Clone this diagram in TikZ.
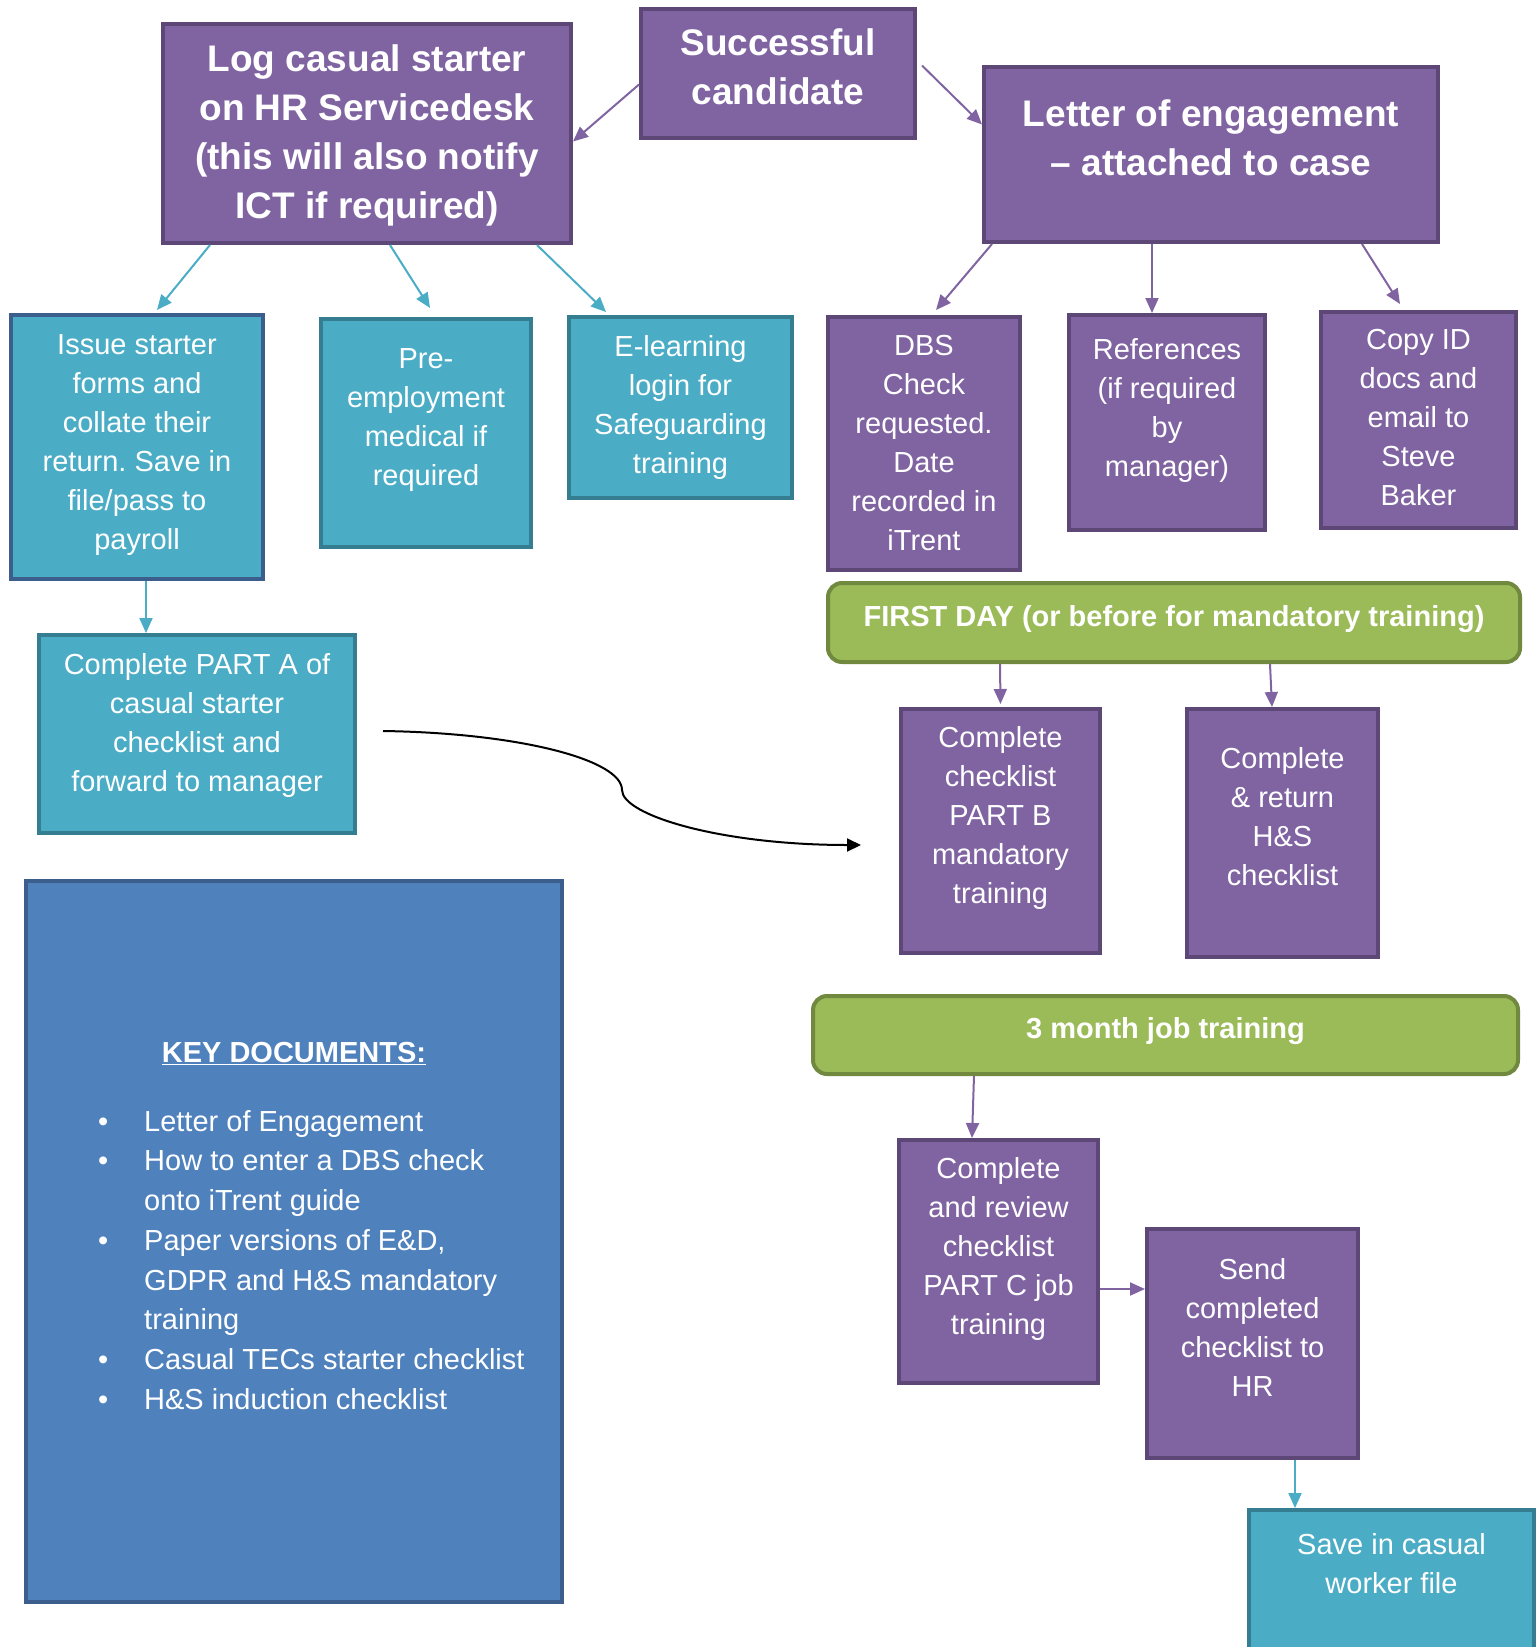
\documentclass[tikz,border=0pt]{standalone}
\usepackage{fontspec}
\setmainfont{Liberation Sans}
\frenchspacing
\usetikzlibrary{positioning,arrows.meta}

\definecolor{hrpurple}{HTML}{8064A2}
\definecolor{hrpurpleline}{HTML}{5C4776}
\definecolor{hrteal}{HTML}{4BACC6}
\definecolor{hrtealline}{HTML}{357D91}
\definecolor{hrnavyline}{HTML}{3B5E8C}
\definecolor{hrgreen}{HTML}{9BBB59}
\definecolor{hrgreenline}{HTML}{71893F}
\definecolor{hrblue}{HTML}{4F81BD}

\begin{document}
\begin{tikzpicture}[x=1pt, y=-1pt]
    \tikzset{boxsize/.style 2 args={minimum width=#1pt, minimum height=#2pt},
      purplecard/.style={draw=hrpurpleline, fill=hrpurple, line width=4pt, inner sep=0pt},
      tealcard/.style={draw=hrtealline, fill=hrteal, line width=4pt, inner sep=0pt},
      greenbar/.style={draw=hrgreenline, fill=hrgreen, line width=4pt, inner sep=0pt, rounded corners=14pt},
      keycard/.style={draw=hrnavyline, fill=hrblue, line width=4pt, inner sep=0pt},
      boxtext/.style={text=white, align=center, inner sep=0pt, font=\fontsize{29}{39}\selectfont},
      headtext/.style={boxtext, font=\bfseries\fontsize{37}{49}\selectfont},
      bartext/.style={boxtext, font=\bfseries\fontsize{29}{39}\selectfont},
      listtext/.style={text=white, align=left, inner sep=0pt, font=\fontsize{29}{39.7}\selectfont},
      purplearrow/.style={draw=hrpurple, line width=2pt, -{Triangle[length=15pt,width=13pt]}},
      tealarrow/.style={draw=hrteal, line width=2pt, -{Triangle[length=15pt,width=13pt]}},
      curvearrow/.style={draw=black, line width=2pt, -{Triangle[length=14pt,width=13pt]}}
    }

    \useasboundingbox (0,0) rectangle (1539,1647);
    \clip (0,0) rectangle (1539,1647);

    % top row
    \node[purplecard, boxsize={274}{129}] (succ) at (778,73.5) {};
    \node[headtext, below=21pt of succ.north] (succ-t) {Successful\\candidate};

    \node[purplecard, boxsize={408}{219}] (log) at (367,133.5) {};
    \node[headtext, below=22pt of log.north] (log-t) {Log casual starter\\on HR Servicedesk\\(this will also notify\\ICT if required)};

    \node[purplecard, boxsize={454}{175}] (letter) at (1211,154.5) {};
    \node[headtext, below=34pt of letter.north] (letter-t) {Letter of engagement\\– attached to case};

    % second row
    \node[tealcard, draw=hrnavyline, boxsize={252}{264}] (issue) at (137,447) {};
    \node[boxtext, below=21pt of issue.north] (issue-t) {Issue starter\\forms and\\collate their\\return. Save in\\file/pass to\\payroll};

    \node[tealcard, boxsize={210}{228}] (pre) at (426,433) {};
    \node[boxtext, below=31pt of pre.north] (pre-t) {Pre-\\employment\\medical if\\required};

    \node[tealcard, boxsize={223}{181}] (elearn) at (680.5,407.5) {};
    \node[boxtext, below=20pt of elearn.north] (elearn-t) {E-learning\\login for\\Safeguarding\\training};

    \node[purplecard, boxsize={192}{253}] (dbs) at (924,443.5) {};
    \node[boxtext, below=20pt of dbs.north] (dbs-t) {DBS\\Check\\requested.\\Date\\recorded in\\iTrent};

    \node[purplecard, boxsize={196}{215}] (ref) at (1167,422.5) {};
    \node[boxtext, below=25pt of ref.north] (ref-t) {References\\(if required\\by\\manager)};

    \node[purplecard, boxsize={195}{216}] (copy) at (1418.5,420) {};
    \node[boxtext, below=19pt of copy.north] (copy-t) {Copy ID\\docs and\\email to\\Steve\\Baker};

    % first day
    \node[tealcard, boxsize={316}{198}] (parta) at (197,734) {};
    \node[boxtext, below=20pt of parta.north] (parta-t) {Complete PART A of\\casual starter\\checklist and\\forward to manager};

    \node[greenbar, boxsize={692}{79}] (firstday) at (1174,622.5) {};
    \node[bartext, below=24pt of firstday.north] (firstday-t) {FIRST DAY (or before for mandatory training)};

    \node[purplecard, boxsize={199}{244}] (partb) at (1000.5,831) {};
    \node[boxtext, below=19pt of partb.north] (partb-t) {Complete\\checklist\\PART B\\mandatory\\training};

    \node[purplecard, boxsize={191}{248}] (hs) at (1282.5,833) {};
    \node[boxtext, below=40pt of hs.north] (hs-t) {Complete\\\& return\\H\&S\\checklist};

    % 3 months
    \node[greenbar, boxsize={705}{78}] (month) at (1165.5,1035) {};
    \node[bartext, below=23pt of month.north] (month-t) {3 month job training};

    \node[purplecard, boxsize={199}{243}] (partc) at (998.5,1261.5) {};
    \node[boxtext, below=19.5pt of partc.north] (partc-t) {Complete\\and review\\checklist\\PART C job\\training};

    \node[purplecard, boxsize={211}{229}] (send) at (1252.5,1343.5) {};
    \node[boxtext, below=31.5pt of send.north] (send-t) {Send\\completed\\checklist to\\HR};

    \node[tealcard, boxsize={285}{188}] (save) at (1391.5,1604) {};
    \node[boxtext, below=25.5pt of save.north] (save-t) {Save in casual\\worker file};

    % key documents
    \node[keycard, boxsize={536}{721}] (key) at (294,1241.5) {};
    \node[bartext, below=163pt of key.north] (key-t) {\underline{KEY DOCUMENTS:}};
    \node[listtext, anchor=north west, below right=231pt and 120pt of key.north west] (key-l)
      {\llap{\textbullet\hspace{36pt}}Letter of Engagement\\
       \llap{\textbullet\hspace{36pt}}How to enter a DBS check\\
       onto iTrent guide\\
       \llap{\textbullet\hspace{36pt}}Paper versions of E\&D,\\
       GDPR and H\&S mandatory\\
       training\\
       \llap{\textbullet\hspace{36pt}}Casual TECs starter checklist\\
       \llap{\textbullet\hspace{36pt}}H\&S induction checklist};

    % connectors
    \draw[purplearrow] ([yshift=-11pt]succ.west) -- ([yshift=-8pt]log.east);
    \draw[purplearrow] ([xshift=5pt,yshift=8pt]succ.east) -- ([yshift=30pt]letter.west);

    \draw[tealarrow] ([xshift=-157pt]log.south) -- ([xshift=20pt,yshift=3pt]issue.north);
    \draw[tealarrow] ([xshift=23pt]log.south) -- ([xshift=4pt,yshift=9pt]pre.north);
    \draw[tealarrow] ([xshift=170pt]log.south) -- ([xshift=-74.5pt,yshift=3pt]elearn.north);

    \draw[purplearrow] ([xshift=-219pt]letter.south) -- ([xshift=12pt,yshift=5pt]dbs.north);
    \draw[purplearrow] ([xshift=-59pt]letter.south) -- ([xshift=-15pt]ref.north);
    \draw[purplearrow] ([xshift=151pt]letter.south) -- ([xshift=-18.5pt,yshift=6pt]copy.north);

    \draw[tealarrow] ([xshift=9pt]issue.south) -- ([xshift=-51pt]parta.north);

    \coordinate (cv-a) at (383,731);
    \coordinate (cv-m) at (622,790);
    \coordinate (cv-b) at (861,845);
    \draw[curvearrow] (cv-a) .. controls +(137,2) and +(0,-30) .. (cv-m)
      .. controls +(0,25) and +(-141,0) .. (cv-b);

    \draw[purplearrow] ([xshift=-174pt]firstday.south) -- ([yshift=3pt]partb.north);
    \draw[purplearrow] ([xshift=96pt]firstday.south) -- ([xshift=-10.5pt]hs.north);

    \draw[purplearrow] ([xshift=-191.5pt]month.south) -- ([xshift=-26.5pt]partc.north);
    \draw[purplearrow] ([yshift=-27.5pt]partc.east) -- ([yshift=54.5pt]send.west);
    \draw[tealarrow] ([xshift=42.5pt]send.south) -- ([xshift=-96.5pt]save.north);
\end{tikzpicture}
\end{document}
